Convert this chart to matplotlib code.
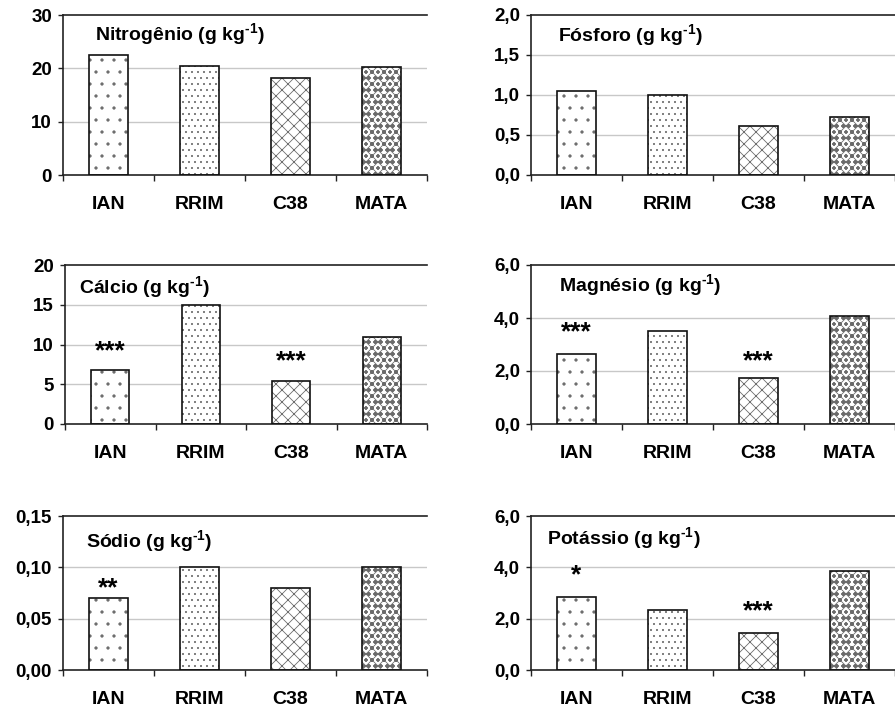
import matplotlib
matplotlib.use("Agg")
import matplotlib.pyplot as plt

# drawn at 72 dpi so that hatch cells come out ~12 px like the original
DPI = 72
S = 100 / DPI   # keeps point sizes comparable to a 100-dpi figure

plt.rcParams.update({
    "font.family": "Liberation Sans",
    "font.weight": "bold",
    "mathtext.fontset": "custom",
    "mathtext.rm": "Liberation Sans:bold",
    "mathtext.bf": "Liberation Sans:bold",
    "mathtext.default": "bf",
    "hatch.linewidth": 0.8,
})

clones = ["IAN", "RRIM", "C38", "MATA"]

titles = ["Nitrogênio", "Fósforo", "Cálcio", "Magnésio", "Sódio", "Potássio"]
nitrogenio = [22.5, 20.4, 18.25, 20.2]
fosforo = [1.05, 1.00, 0.61, 0.73]
calcio = [6.75, 15.0, 5.45, 10.9]
magnesio = [2.65, 3.51, 1.72, 4.06]
sodio = [0.07, 0.10, 0.08, 0.10]
potassio = [2.83, 2.34, 1.43, 3.86]
values = [nitrogenio, fosforo, calcio, magnesio, sodio, potassio]

yticks = [
    [0, 10, 20, 30],
    [0, 0.5, 1.0, 1.5, 2.0],
    [0, 5, 10, 15, 20],
    [0, 2, 4, 6],
    [0, 0.05, 0.10, 0.15],
    [0, 2, 4, 6],
]
ytick_labels = [
    ["0", "10", "20", "30"],
    ["0,0", "0,5", "1,0", "1,5", "2,0"],
    ["0", "5", "10", "15", "20"],
    ["0,0", "2,0", "4,0", "6,0"],
    ["0,00", "0,05", "0,10", "0,15"],
    ["0,0", "2,0", "4,0", "6,0"],
]

# significance marks: (panel, clone index, label, y position)
stars = [
    (2, 0, "***", 9.2), (2, 2, "***", 7.9),
    (3, 0, "***", 3.45), (3, 2, "***", 2.35),
    (4, 0, "**", 0.080),
    (5, 0, "*", 3.7), (5, 2, "***", 2.3),
]

hatches = [".", "..", "xx", "xxoo"]

# axes rectangles in pixels (left, top, right, bottom) on 895x714
W, H = 895, 714
boxes = [
    (63, 15, 427, 175), (531, 15, 895, 175),
    (65, 265, 427, 424), (531, 265, 895, 424),
    (63, 516, 427, 670), (531, 516, 895, 670),
]
title_pos = [(0.088, 0.88), (0.074, 0.875), (0.038, 0.86),
             (0.077, 0.875), (0.063, 0.84), (0.044, 0.86)]

fig = plt.figure(figsize=(W / DPI, H / DPI), dpi=DPI)

for i in range(6):
    l, t, r, b = boxes[i]
    ax = fig.add_axes([l / W, 1 - b / H, (r - l) / W, (b - t) / H])
    x = range(len(clones))
    ax.bar(x, values[i], width=0.42, color="white", edgecolor="#6a6a6a",
           linewidth=0, hatch=hatches, zorder=2)
    ax.bar(x, values[i], width=0.42, fill=False, edgecolor="#111111",
           linewidth=1.2 * S, zorder=3)

    ax.set_xlim(-0.5, 3.5)
    ax.set_ylim(yticks[i][0], yticks[i][-1])
    ax.set_yticks(yticks[i])
    ax.set_yticklabels(ytick_labels[i])
    ax.set_xticks([-0.5, 0.5, 1.5, 2.5, 3.5])
    ax.set_xticklabels([])
    ax.set_xticks(list(x), minor=True)
    ax.set_xticklabels(clones, minor=True)
    ax.tick_params(axis="x", which="major", direction="out", length=6,
                   width=1 * S, color="#222222")
    ax.tick_params(axis="x", which="minor", length=0, pad=21,
                   labelsize=14 * S)
    ax.tick_params(axis="y", direction="out", length=5, width=1 * S,
                   color="#222222", pad=6, labelsize=13.5 * S)

    for v in yticks[i][1:-1]:
        ax.axhline(v, color="#c8c8c8", linewidth=1.0 * S, zorder=1)

    for side in ["left", "bottom", "top"]:
        ax.spines[side].set_color("#222222")
        ax.spines[side].set_linewidth(1.2 * S)
    ax.spines["right"].set_visible(False)

    ax.text(title_pos[i][0], title_pos[i][1],
            titles[i] + r" (g kg$^{\text{-1}}$)",
            transform=ax.transAxes, fontsize=14 * S, fontweight="bold",
            va="center", ha="left")

    for p, k, lab, y in stars:
        if p == i:
            ax.text(k, y, lab, ha="center", va="center", fontsize=19 * S,
                    fontweight="bold")

fig.savefig("out.png", dpi=DPI)
